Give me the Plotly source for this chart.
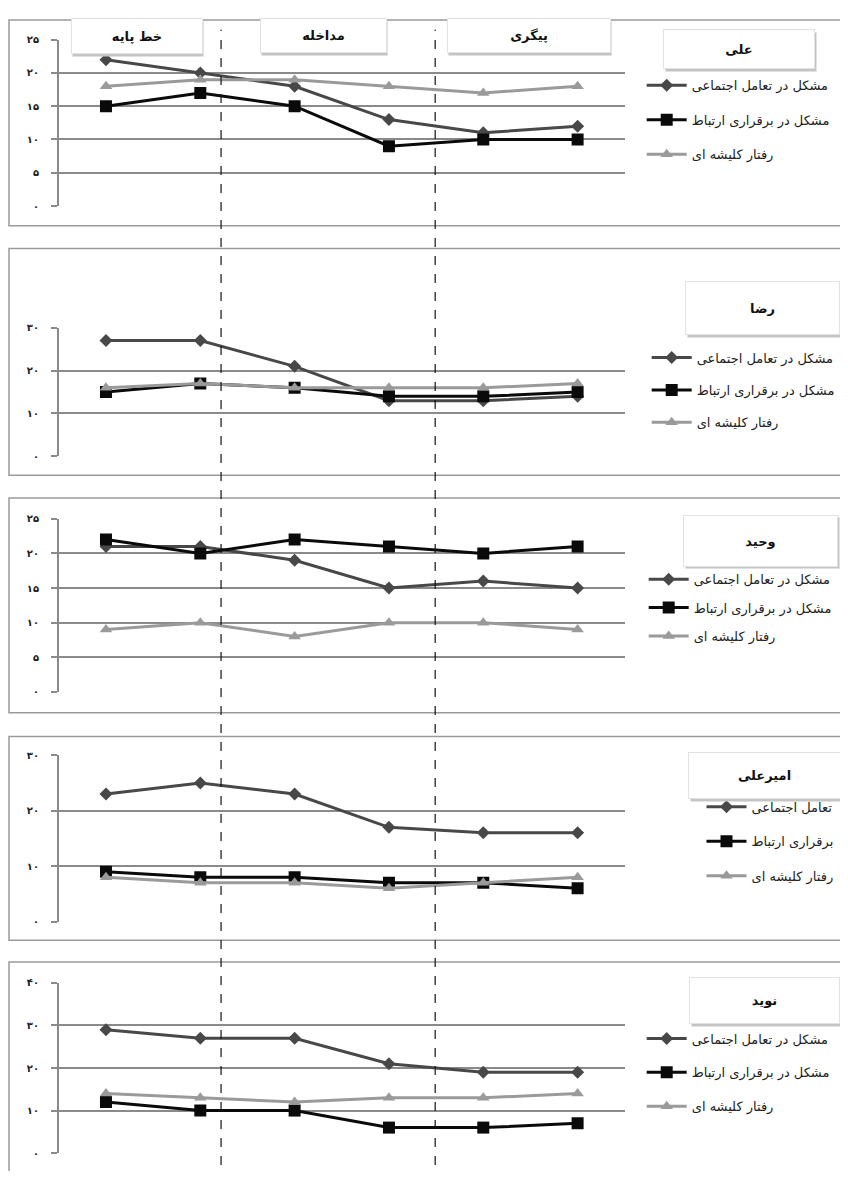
import plotly.graph_objects as go

# page body has an 8px margin, so the figure fills the rest of the 848x1179 window
OFF = 8
W, H = 848 - 2 * OFF, 1179 - 2 * OFF

sessions = [1, 2, 3, 4, 5, 6]

ali_social = [22, 20, 18, 13, 11, 12]
ali_comm = [15, 17, 15, 9, 10, 10]
ali_stereo = [18, 19, 19, 18, 17, 18]

reza_social = [27, 27, 21, 13, 13, 14]
reza_comm = [15, 17, 16, 14, 14, 15]
reza_stereo = [16, 17, 16, 16, 16, 17]

vahid_social = [21, 21, 19, 15, 16, 15]
vahid_comm = [22, 20, 22, 21, 20, 21]
vahid_stereo = [9, 10, 8, 10, 10, 9]

amir_social = [23, 25, 23, 17, 16, 16]
amir_comm = [9, 8, 8, 7, 7, 6]
amir_stereo = [8, 7, 7, 6, 7, 8]

navid_social = [29, 27, 27, 21, 19, 19]
navid_comm = [12, 10, 10, 6, 6, 7]
navid_stereo = [14, 13, 12, 13, 13, 14]

names = ["علی", "رضا", "وحید", "امیرعلی", "نوید"]
series_full = ["مشکل در تعامل اجتماعی", "مشکل در برقراری ارتباط", "رفتار کلیشه ای"]
series_short = ["تعامل اجتماعی", "برقراری ارتباط", "رفتار کلیشه ای"]
phases = ["خط پایه", "مداخله", "پیگری"]
phase_changes = [2.22, 4.49]

ymax = [25, 30, 25, 30, 40]
ytick_vals = [[0, 5, 10, 15, 20, 25], [0, 10, 20, 30], [0, 5, 10, 15, 20, 25],
              [0, 10, 20, 30], [0, 10, 20, 30, 40]]
persian_digits = {"0": "۰", "1": "۱", "2": "۲", "3": "۳", "4": "۴", "5": "۵",
                  "6": "۶", "7": "۷", "8": "۸", "9": "۹"}


def fa(n):
    return "".join(persian_digits[c] for c in str(n))


data = [
    (ali_social, ali_comm, ali_stereo),
    (reza_social, reza_comm, reza_stereo),
    (vahid_social, vahid_comm, vahid_stereo),
    (amir_social, amir_comm, amir_stereo),
    (navid_social, navid_comm, navid_stereo),
]


def px(x):
    return (x - OFF) / W


def py(y):
    return 1 - (y - OFF) / H


# layout geometry (window pixels)
plot_x = (59, 627)
plot_y = [(202, 34), (455, 325), (693, 518), (925, 757), (1159, 987)]
panel_box = [(14, 222), (245, 474), (497, 714), (738, 944), (966, 1185)]
title_box = [(742, 43, 150, 38), (765, 305, 153, 52), (763, 540, 153, 50),
             (767, 777, 151, 45), (767, 1005, 149, 45)]
legend_pos = [(644, 65), (649, 340), (646, 564), (704, 794), (644, 1028)]
legend_gap = [14.5, 12.5, 8.5, 14.5, 14]

styles = [
    dict(color="#484848", symbol="diamond", size=10, width=3),
    dict(color="#0a0a0a", symbol="square", size=12, width=3),
    dict(color="#9a9a9a", symbol="triangle-up", size=11, width=3),
]

FONT = "DejaVu Sans"
GRID = "#8a8a8a"

fig = go.Figure()
layout = dict(width=W, height=H, margin=dict(l=0, r=0, t=0, b=0),
              paper_bgcolor="white", plot_bgcolor="white", showlegend=True)
shapes = []
annotations = []


def box(cx, cy, bw, bh, text, sx=2, sy=3):
    annotations.append(dict(xref="paper", yref="paper", x=px(cx + sx), y=py(cy + sy),
                            xanchor="center", yanchor="middle",
                            text=" ", showarrow=False, width=bw, height=bh,
                            bgcolor="#c4c4c4", borderpad=0))
    annotations.append(dict(xref="paper", yref="paper", x=px(cx), y=py(cy),
                            xanchor="center", yanchor="middle",
                            text="<b>" + text + "</b>", showarrow=False,
                            width=bw, height=bh, bgcolor="white",
                            bordercolor="#e2e2e2", borderwidth=1, borderpad=0,
                            font=dict(family=FONT, size=13, color="#111")))


for k in range(5):
    sfx = "" if k == 0 else str(k + 1)
    lg = "legend" if k == 0 else "legend" + str(k + 1)
    labels = series_short if k == 3 else series_full
    for j in range(3):
        st = styles[j]
        fig.add_trace(go.Scatter(
            x=sessions, y=data[k][j], mode="lines+markers", name=labels[j],
            xaxis="x" + sfx, yaxis="y" + sfx, legend=lg,
            legendgroup=f"g{k}{j}",
            line=dict(color=st["color"], width=st["width"]),
            marker=dict(symbol=st["symbol"], size=st["size"], color=st["color"]),
        ))
    layout["xaxis" + sfx] = dict(
        domain=[px(plot_x[0]), px(plot_x[1])], range=[0.5, 6.5],
        anchor="y" + sfx, showgrid=False, zeroline=False, showticklabels=False,
        showline=False, fixedrange=True)
    layout["yaxis" + sfx] = dict(
        domain=[py(plot_y[k][0]), py(plot_y[k][1])], range=[0, ymax[k]],
        anchor="x" + sfx, tickvals=ytick_vals[k],
        ticktext=[fa(v) for v in ytick_vals[k]],
        tickfont=dict(family=FONT, size=10, color="#222", weight="bold"),
        ticks="outside", ticklen=6, tickwidth=1.5, tickcolor=GRID,
        ticklabelstandoff=10,
        showgrid=True, gridcolor=GRID, gridwidth=1.5, zeroline=False,
        showline=True, linecolor=GRID, linewidth=1.5, fixedrange=True)
    lx, ly = legend_pos[k]
    layout[lg] = dict(x=px(lx), y=py(ly), xanchor="left", yanchor="top",
                      bgcolor="rgba(0,0,0,0)", itemwidth=40,
                      traceorder="grouped", tracegroupgap=legend_gap[k],
                      font=dict(family=FONT, size=13, color="#222"))
    # panel frame
    t, b = panel_box[k]
    shapes.append(dict(type="rect", xref="paper", yref="paper",
                       x0=px(9), x1=px(852), y0=py(b), y1=py(t),
                       line=dict(color="#9a9a9a", width=1.5), layer="below"))
    cx, cy, bw, bh = title_box[k]
    box(cx, cy, bw, bh, names[k])

# phase label boxes on top panel
phase_box = [(137, 30, 130, 34), (325, 30, 125, 33), (531, 30, 162, 33)]
for (cx, cy, bw, bh), lab in zip(phase_box, phases):
    box(cx, cy, bw, bh, lab, sx=1, sy=3)

# phase change dashed lines across all panels
for xc in phase_changes:
    shapes.append(dict(type="line", xref="x", yref="paper", x0=xc, x1=xc,
                       y0=0, y1=py(24), line=dict(color="#111", width=1.2, dash="dash"),
                       layer="above"))

layout["shapes"] = shapes
layout["annotations"] = annotations
fig.update_layout(**layout)
fig.write_html("out.html")
